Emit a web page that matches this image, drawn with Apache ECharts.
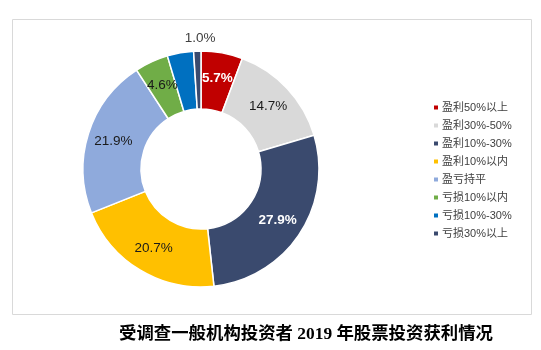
<!DOCTYPE html>
<html>
<head>
<meta charset="utf-8">
<script src="https://cdn.jsdelivr.net/npm/echarts@6/dist/echarts.min.js"></script>
<style>html,body{margin:0;padding:0;background:#fff;}#c{width:541px;height:350px;}</style>
</head>
<body>
<div id="c"></div>
<script>
var categories = ['盈利50%以上','盈利30%-50%','盈利10%-30%','盈利10%以内','盈亏持平','亏损10%以内','亏损10%-30%','亏损30%以上'];
var values = [5.7, 14.7, 27.9, 20.7, 21.9, 4.6, 3.6, 1.0];
var colors = ['#C00000','#D9D9D9','#3A4A6E','#FFC000','#8FAADC','#70AD47','#0070C0','#3A4A6E'];
var titleText = '受调查一般机构投资者 2019 年股票投资获利情况';

var chart = echarts.init(document.getElementById('c'));
var data = categories.map(function(n, i){
  var item = {name: n, value: values[i], itemStyle: {color: colors[i]}};
  if (i === 0 || i === 2) {
    item.label = {color: '#fff', fontWeight: 'bold'};
  }
  if (i === 7) {
    item.label = {offset: [2, -39], color: '#404040'};
  }
  return item;
});
chart.setOption({
  animation: false,
  graphic: [{
    type: 'rect', shape: {x: 12.5, y: 19.5, width: 519, height: 295},
    style: {fill: 'none', stroke: '#D9D9D9', lineWidth: 1}, silent: true
  }],
  title: {
    text: titleText, left: 301, top: 321, textAlign: 'center',
    textStyle: {fontFamily: "'Liberation Serif','Noto Sans CJK SC'", fontSize: 17.4, fontWeight: 'bold', color: '#000'}
  },
  legend: {
    orient: 'vertical', left: 427, top: 97,
    itemWidth: 6, itemHeight: 6, itemGap: 7, icon: 'rect',
    textStyle: {fontFamily: "'Liberation Sans','Noto Sans CJK SC'", fontSize: 11, color: '#404040', padding: [0,0,0,-2]},
    data: categories
  },
  series: [{
    type: 'pie',
    center: [201, 169],
    radius: [60, 118],
    startAngle: 90,
    clockwise: true,
    itemStyle: {borderColor: '#fff', borderWidth: 1.5},
    label: {
      show: true, position: 'inside',
      formatter: function(p){ return p.value.toFixed(1) + '%'; },
      fontFamily: "'Liberation Sans', Arial, sans-serif", fontSize: 13.5, color: '#1a1a1a'
    },
    labelLine: {show: false},
    emphasis: {disabled: true},
    data: data
  }]
});
</script>
</body>
</html>
